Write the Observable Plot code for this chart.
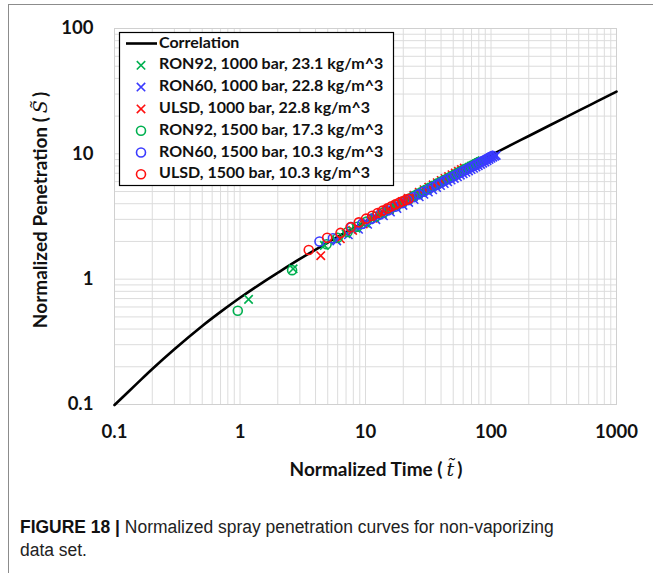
<!DOCTYPE html>
<html><head><meta charset="utf-8">
<script src="https://cdn.jsdelivr.net/npm/d3@7"></script>
<script src="https://cdn.jsdelivr.net/npm/@observablehq/plot@0.6"></script>
<style>
body{margin:0;background:#fff;}
#wrap{position:relative;width:653px;height:573px;overflow:hidden;background:#fff;}
#frame{position:absolute;left:8px;top:4px;width:700px;height:620px;border-left:1.5px solid #8c8c8c;border-top:1.5px solid #8c8c8c;pointer-events:none;}
#chart{position:absolute;left:0;top:0;}
#caption{position:absolute;left:20px;top:516px;width:640px;font-family:"Liberation Sans",Arial,sans-serif;font-size:18px;line-height:23px;color:#222;transform:scaleX(0.97);transform-origin:0 0;white-space:nowrap;}
#caption b{font-weight:bold;color:#111;}
</style></head>
<body>
<div id="wrap">
  <div id="chart"></div>
  <div id="frame"></div>
  <div id="caption"><b>FIGURE 18 |</b> Normalized spray penetration curves for non-vaporizing<br>data set.</div>
</div>
<script>
// ---- data ----
const xTickValues = [0.1, 1, 10, 100, 1000];
const yTickValues = [0.1, 1, 10, 100];
const xTickLabels = ["0.1", "1", "10", "100", "1000"];
const yTickLabels = ["0.1", "1", "10", "100"];

const corrT = [0.1,0.15,0.2,0.3,0.5,0.7,1,1.5,2,3,5,7,10,15,20,30,50,70,100,150,200,300,500,700,1000];
const corrS = [0.099,0.146,0.192,0.276,0.423,0.548,0.71,0.935,1.125,1.45,1.96,2.37,2.89,3.60,4.20,5.21,6.81,8.10,9.74,11.99,13.88,17.06,22.10,26.20,31.37];

const seriesNames = ["RON92, 1000 bar, 23.1 kg/m^3","RON60, 1000 bar, 22.8 kg/m^3","ULSD, 1000 bar, 22.8 kg/m^3","RON92, 1500 bar, 17.3 kg/m^3","RON60, 1500 bar, 10.3 kg/m^3","ULSD, 1500 bar, 10.3 kg/m^3"];
const seriesColors = ["#00b050","#3b3bff","#ff1010","#00b050","#3b3bff","#ff1010"];
const seriesSymbols = ["times","times","times","circle","circle","circle"];

const ron92_1000_t = [1.17,2.65,4.7,5.8,7.0,8.4,10,11.8,13.6,15.5,17.5,19.6,21.8,24,26.3,28.6,31,33.5,36,38.6,41.2,43.9,46.6,49.4,52.2,55,58,61,64,67,70,73,76,79,82,85];
const ron92_1000_s = [0.69,1.21,1.86,2.06,2.30,2.55,2.80,3.08,3.33,3.57,3.81,4.05,4.30,4.53,4.76,4.98,5.20,5.42,5.62,5.85,6.05,6.25,6.45,6.66,6.85,7.04,7.24,7.44,7.62,7.80,7.98,8.15,8.33,8.50,8.66,8.82];

const ron60_1000_t = [5.9,7.3,8.8,10.4,12.1,13.9,15.8,17.8,19.9,22.1,24.4,26.8,29.2,31.7,34.3,36.9,39.6,42.4,45.2,48.1,51,54,57,60,63.1,66.2,69.4,72.6,75.9,79.2,82.6,86,89.5,93,96.5,100,103.5,107,110];
const ron60_1000_s = [2.02,2.26,2.50,2.74,2.98,3.20,3.43,3.66,3.88,4.10,4.32,4.54,4.75,4.96,5.17,5.38,5.58,5.79,5.98,6.18,6.37,6.56,6.75,6.93,7.12,7.30,7.49,7.67,7.86,8.04,8.23,8.42,8.62,8.82,9.02,9.22,9.40,9.58,9.72];

const ulsd_1000_t = [4.4,6.3,7.9,9.6,11.4,13.3,15.3,17.4,19.6,21.9,24.3,26.8,29.3,31.9,34.6,37.3,40.1,43,45.9,48.9,51.9,55,58.1,61.2];
const ulsd_1000_s = [1.54,2.10,2.45,2.76,3.06,3.34,3.62,3.90,4.16,4.42,4.68,4.93,5.17,5.42,5.66,5.89,6.13,6.36,6.59,6.82,7.04,7.26,7.48,7.69];

const ron92_1500_t = [0.96,2.6,4.9,6.0,7.2,8.6,10.2,12,13.9,15.8,17.8,19.9,22.1,24.4,26.7,29.1,31.6,34.1,36.7,39.3,42,44.7,47.5,50.3,53.1,56,59,62,65,68,71,74,77,80];
const ron92_1500_s = [0.56,1.18,1.90,2.14,2.38,2.62,2.88,3.15,3.41,3.66,3.90,4.14,4.38,4.62,4.85,5.07,5.30,5.52,5.73,5.95,6.16,6.36,6.56,6.76,6.95,7.15,7.34,7.53,7.72,7.90,8.08,8.26,8.43,8.60];

const ron60_1500_t = [4.3,5.5,7.7,9.4,11.2,13.1,15.1,17.2,19.4,21.7,24.1,26.6,29.1,31.7,34.4,37.1,39.9,42.8,45.7,48.7,51.7,54.8,57.9,61.1,64.3,67.6,70.9,74.3,77.7,81.2,84.7,88.3,91.9,95.5,99.2,103];
const ron60_1500_s = [2.0,2.12,2.6,2.76,3.03,3.28,3.53,3.78,4.03,4.27,4.51,4.75,4.98,5.20,5.43,5.65,5.87,6.09,6.30,6.51,6.72,6.92,7.13,7.33,7.53,7.73,7.93,8.12,8.31,8.51,8.70,8.90,9.09,9.28,9.47,9.66];

const ulsd_1500_t = [3.53,4.95,6.32,7.6,8.85,10.1,11.3,12.5,13.7,14.9,16.1,17.3,18.5,19.7,20.9,22.1];
const ulsd_1500_s = [1.71,2.14,2.34,2.60,2.84,3.04,3.21,3.37,3.52,3.67,3.81,3.95,4.07,4.19,4.29,4.38];

// ---- build tables ----
const seriesT = [ron92_1000_t, ron60_1000_t, ulsd_1000_t, ron92_1500_t, ron60_1500_t, ulsd_1500_t];
const seriesS = [ron92_1000_s, ron60_1000_s, ulsd_1000_s, ron92_1500_s, ron60_1500_s, ulsd_1500_s];
const corr = corrT.map((t, i) => ({t, s: corrS[i]}));
const seriesRows = seriesT.map((ts, i) => ts.map((t, j) => ({t, s: seriesS[i][j]})));

const gridX = [], gridY = [];
for (let e = -1; e < 3; e++) for (let k = 1; k < 10; k++) gridX.push(k * Math.pow(10, e));
gridX.push(1000);
for (let e = -1; e < 2; e++) for (let k = 1; k < 10; k++) gridY.push(k * Math.pow(10, e));
gridY.push(100);

const W = 653, H = 500, ML = 114, MR = 37, MT = 28, MB = 96;
const font = "Lato, 'Open Sans', sans-serif";

const marks = [
  Plot.ruleX(gridX, {x: d => d, stroke: "#dcdcdc", strokeWidth: 1}),
  Plot.ruleY(gridY, {y: d => d, stroke: "#dcdcdc", strokeWidth: 1}),
  Plot.frame({stroke: "#d0d0d0", strokeWidth: 1}),
  Plot.line(corr, {x: "t", y: "s", stroke: "#000", strokeWidth: 2.6, curve: "catmull-rom"})
];
seriesRows.forEach((rows, i) => {
  marks.push(Plot.dot(rows, {x: "t", y: "s", symbol: seriesSymbols[i], stroke: seriesColors[i], fill: "none",
    r: seriesSymbols[i] === "times" ? 3.9 : 4.5, strokeWidth: 1.6}));
});
marks.push(Plot.text(xTickValues, {x: d => d, text: (d, i) => xTickLabels[i], frameAnchor: "bottom", dy: 28, lineAnchor: "middle", fontSize: 18.5, fontWeight: "bold", fill: "#111"}));
marks.push(Plot.text(yTickValues, {y: d => d, text: (d, i) => yTickLabels[i], frameAnchor: "left", dx: -21, textAnchor: "end", lineAnchor: "middle", fontSize: 18.5, fontWeight: "bold", fill: "#111"}));

const plot = Plot.plot({
  width: W, height: H, marginLeft: ML, marginRight: MR, marginTop: MT, marginBottom: MB,
  x: {type: "log", domain: [0.1, 1000], axis: null},
  y: {type: "log", domain: [0.1, 100], axis: null},
  style: {fontFamily: font, background: "transparent", overflow: "visible"},
  marks
});
document.getElementById("chart").appendChild(plot);

const svg = d3.select(plot);
// axis titles
const xl = svg.append("text").attr("x", 376).attr("y", 471).attr("text-anchor", "middle")
  .attr("dominant-baseline", "middle").style("font", "bold 19px " + font).attr("fill", "#111");
xl.append("tspan").text("Normalized Time (");
xl.append("tspan").text("t\u0303").style("font-family", "'DejaVu Serif', serif").style("font-style", "italic").style("font-weight", "normal").attr("dx", 4);
xl.append("tspan").text(")").attr("dx", 3);

const yl = svg.append("text").attr("transform", "translate(42,210) rotate(-90)").attr("text-anchor", "middle")
  .attr("dominant-baseline", "middle").style("font", "bold 19px " + font).attr("fill", "#111");
yl.append("tspan").text("Normalized Penetration (");
yl.append("tspan").text("S\u0303").style("font-family", "'DejaVu Serif', serif").style("font-style", "italic").style("font-weight", "normal").attr("dx", 4);
yl.append("tspan").text(")").attr("dx", 3);

// legend
const lg = svg.append("g").attr("text-anchor", "start");
lg.append("rect").attr("x", 119.5).attr("y", 32.5).attr("width", 274).attr("height", 153).attr("fill", "#fff").attr("stroke", "#000").attr("stroke-width", 1.2);
const rowY = [43.5, 65.3, 87.1, 108.9, 130.7, 152.5, 174.3];
lg.append("line").attr("x1", 126).attr("x2", 157).attr("y1", rowY[0]).attr("y2", rowY[0]).attr("stroke", "#000").attr("stroke-width", 2.6);
lg.append("text").attr("x", 159).attr("y", rowY[0]).attr("text-anchor", "start").attr("dominant-baseline", "middle").style("font", "bold 16px " + font).attr("fill", "#111").text("Correlation");
seriesNames.forEach((name, i) => {
  const y = rowY[i + 1];
  const isX = seriesSymbols[i] === "times";
  const r = isX ? 3.9 : 4.5;
  lg.append("path").attr("transform", `translate(141,${y})`)
    .attr("d", d3.symbol(isX ? d3.symbolTimes : d3.symbolCircle, r * r * Math.PI)())
    .attr("fill", "none").attr("stroke", seriesColors[i]).attr("stroke-width", 1.6);
  lg.append("text").attr("x", 159).attr("y", y).attr("text-anchor", "start").attr("dominant-baseline", "middle").style("font", "bold 16px " + font).attr("fill", "#111").text(name);
});
</script>
</body></html>
